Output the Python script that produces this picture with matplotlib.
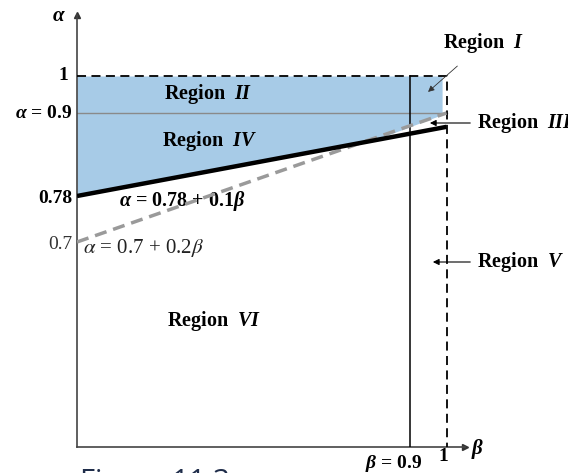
import numpy as np
import matplotlib
matplotlib.use("Agg")
import matplotlib.pyplot as plt

plt.rcParams["mathtext.fontset"] = "custom"
plt.rcParams["mathtext.rm"] = "Liberation Serif:bold"
plt.rcParams["mathtext.bf"] = "Liberation Serif:bold"
plt.rcParams["mathtext.it"] = "Liberation Serif:italic:bold"

# schematic alpha axis: alpha values and their height (px above the beta axis)
alpha_marks = [0.0, 0.7, 0.78, 0.9, 1.0, 1.2]
alpha_px = [0.0, 205.0, 251.0, 334.0, 371.0, 445.0]

beta = np.array([0.0, 0.8, 0.988])
beta_full = np.array([0.0, 1.0])
thick_a0, thick_slope = 0.78, 0.1     # alpha = 0.78 + 0.1 beta
dash_a0, dash_slope = 0.7, 0.2        # alpha = 0.7 + 0.2 beta
beta_cut = 0.9
alpha_cut = 0.9

def fwd(a):
    return np.interp(a, alpha_marks, alpha_px)

def inv(v):
    return np.interp(v, alpha_px, alpha_marks)

fig = plt.figure(figsize=(5.68, 4.73), dpi=100)
ax = fig.add_axes([77 / 568, 26 / 473, 388 / 568, 432 / 473])
ax.set_yscale("function", functions=(fwd, inv))
ax.set_xlim(0, 1.05)
ax.set_ylim(0, inv(432))

serif = "Liberation Serif"
blue = "#a7cbe7"

# shaded region above both lines
lower = np.maximum(thick_a0 + thick_slope * beta, dash_a0 + dash_slope * beta)
ax.fill_between(beta, lower, 1.0, color=blue, lw=0, zorder=1)

# alpha = 0.9 line
ax.plot(beta_full, [alpha_cut, alpha_cut], color="#8a8a8a", lw=1, zorder=2)
# dashed boundary box
ax.plot([0, 1, 1], [1, 1, 0], color="black", lw=1.3, ls=(0, (5, 3)), zorder=3)
# beta = 0.9 line
ax.plot([beta_cut, beta_cut], [0, 1], color="black", lw=1.1, zorder=3)
# dashed gray line
ax.plot(beta_full, dash_a0 + dash_slope * beta_full, color="#9a9a9a", lw=2.5,
        ls=(0, (3.5, 2)), zorder=4)
# thick black line
ax.plot(beta_full, thick_a0 + thick_slope * beta_full, color="black", lw=3.2,
        solid_capstyle="butt", zorder=5)

# axes styling
for s in ["top", "right"]:
    ax.spines[s].set_visible(False)
for s in ["left", "bottom"]:
    ax.spines[s].set_color("#444444")
    ax.spines[s].set_linewidth(1.2)
ax.set_xticks([])
ax.set_yticks([])
ax.plot(1, 0, ">", color="#333333", ms=5, transform=ax.transAxes, clip_on=False)
ax.plot(0, 1, "^", color="#333333", ms=5, transform=ax.transAxes, clip_on=False)

bold = dict(family=serif, fontweight="bold", color="black")
xax = ax.get_xaxis_transform()
ax.text(-0.03, inv(431), r"$\alpha$", fontsize=15, ha="right", va="center",
        transform=ax.get_yaxis_transform(), **bold)
ax.text(1.065, -0.005, r"$\beta$", fontsize=15, ha="left", va="center",
        transform=xax, **bold)

ax.text(-0.025, 1.0, "1", fontsize=14, ha="right", va="center", **bold)
ax.text(-0.012, 0.9, r"$\alpha$ = 0.9", fontsize=14, ha="right", va="center", **bold)
ax.text(-0.012, 0.775, "0.78", fontsize=14, ha="right", va="center", **bold)
ax.text(-0.012, 0.693, "0.7", fontsize=14, ha="right", va="center", family=serif,
        color="#333333")
ax.text(0.934, -0.013, r"$\beta$ = 0.9", fontsize=14, ha="right", va="top",
        transform=xax, **bold)
ax.text(0.99, -0.002, "1", fontsize=14, ha="center", va="top", transform=xax, **bold)

ax.text(0.355, 0.952, "Region  $\\mathit{II}$", fontsize=14.5, ha="center", va="center", **bold)
ax.text(0.36, 0.86, "Region  $\\mathit{IV}$", fontsize=14.5, ha="center", va="center", **bold)
ax.text(0.37, 0.43, "Region  $\\mathit{VI}$", fontsize=14.5, ha="center", va="center", **bold)
ax.text(0.115, 0.772, r"$\alpha$ = 0.78 + 0.1$\beta$", fontsize=14.5, ha="left",
        va="center", **bold)
ax.text(0.017, 0.681, r"$\alpha$ = 0.7 + 0.2$\beta$", fontsize=15, ha="left", va="center",
        family=serif, color="#222222", math_fontfamily="stix")

ax.annotate("Region  $\\mathit{I}$", xy=(0.95, 0.957), xytext=(1.1, inv(404)),
            fontsize=14.5, ha="center", va="center", annotation_clip=False,
            arrowprops=dict(arrowstyle="-|>", color="#333333", lw=0.6,
                            shrinkA=9, shrinkB=0, mutation_scale=9), **bold)
ax.annotate("Region  $\\mathit{III}$", xy=(0.955, inv(324)), xytext=(1.083, inv(324)),
            fontsize=14.5, ha="left", va="center", annotation_clip=False,
            arrowprops=dict(arrowstyle="-|>", color="black", lw=0.8,
                            shrinkA=3, shrinkB=0, mutation_scale=9), **bold)
ax.annotate("Region  $\\mathit{V}$", xy=(0.963, inv(185)), xytext=(1.083, inv(185)),
            fontsize=14.5, ha="left", va="center", annotation_clip=False,
            arrowprops=dict(arrowstyle="-|>", color="black", lw=0.8,
                            shrinkA=3, shrinkB=0, mutation_scale=9), **bold)

fig.text(80 / 568, 1 - 468 / 473, "Figure 11.3", fontsize=21, ha="left", va="top",
         family="Open Sans", color="#1f2d4a")

fig.savefig("out.png", dpi=100)
